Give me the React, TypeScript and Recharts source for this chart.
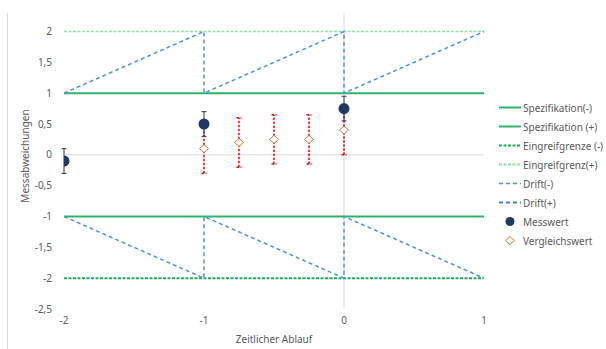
import React from 'react';
import { ScatterChart, Scatter, XAxis, YAxis, ReferenceLine, ErrorBar } from 'recharts';

// Werte
const limitX = [-2, 1];
const specMinus = [-1, -1];
const specPlus = [1, 1];
const limitMinus = [-2, -2];
const limitPlus = [2, 2];

const driftX = [-2, -1, -1, 0, 0, 1];
const driftMinus = [-1, -2, -1, -2, -1, -2];
const driftPlus = [1, 2, 1, 2, 1, 2];

const messX = [-2, -1, 0];
const messY = [-0.1, 0.5, 0.75];
const messErr = [0.2, 0.2, 0.2];

const vergX = [-1, -0.75, -0.5, -0.25, 0];
const vergY = [0.1, 0.2, 0.25, 0.25, 0.4];
const vergErr = [0.4, 0.4, 0.4, 0.4, 0.4];

const xTicks = [-2, -1, 0, 1];
const yTicks = [-2.5, -2, -1.5, -1, -0.5, 0, 0.5, 1, 1.5, 2];

const toPoints = (xs: number[], ys: number[], errs?: number[]) =>
  xs.map((x, i) => ({ x, y: ys[i], err: errs ? errs[i] : 0 }));

const FONT = '"Noto Sans", "Open Sans", sans-serif';
const TEXT = '#595959';

const legendItems = [
  { name: 'Spezifikation(-)', type: 'line', color: '#2DB46A', width: 2, dash: '' },
  { name: 'Spezifikation (+)', type: 'line', color: '#2DB46A', width: 2, dash: '' },
  { name: 'Eingreifgrenze (-)', type: 'line', color: '#1FAE55', width: 2, dash: '3 1.5' },
  { name: 'Eingreifgrenz(+)', type: 'line', color: '#8FDCAB', width: 2, dash: '3 1.5' },
  { name: 'Drift(-)', type: 'line', color: '#4C95D6', width: 1.5, dash: '4 3' },
  { name: 'Drift(+)', type: 'line', color: '#3A86CF', width: 2, dash: '4 3' },
  { name: 'Messwert', type: 'circle', color: '#203864', width: 0, dash: '' },
  { name: 'Vergleichswert', type: 'diamond', color: '#D2783A', width: 0, dash: '' },
];

const Nothing = () => <g />;

const Diamond = (props: any) => {
  const { cx, cy } = props;
  return (
    <polygon
      points={`${cx - 4.5},${cy} ${cx},${cy - 4} ${cx + 4.5},${cy} ${cx},${cy + 4}`}
      fill="#fff"
      stroke="#D2783A"
      strokeWidth={1}
    />
  );
};

const Dot = (props: any) => <circle cx={props.cx} cy={props.cy} r={5.5} fill="#203864" />;

const YTitle = () => (
  <text x={25} y={156} transform="rotate(-90 25 156)" textAnchor="middle" dominantBaseline="central"
    fill={TEXT} fontSize={10} fontFamily={FONT}>
    Messabweichungen
  </text>
);

function ChartLegend() {
  return (
    <div style={{ position: 'absolute', left: 497, top: 98, fontFamily: FONT, fontSize: 10, color: TEXT }}>
      {legendItems.map((it) => (
        <div key={it.name} style={{ height: 19, display: 'flex', alignItems: 'center' }}>
          <svg width={26} height={19}>
            {it.type === 'line' && (
              <line x1={2} y1={9.5} x2={24} y2={9.5} stroke={it.color} strokeWidth={it.width} strokeDasharray={it.dash} />
            )}
            {it.type === 'circle' && <circle cx={13} cy={9.5} r={4.5} fill={it.color} />}
            {it.type === 'diamond' && (
              <polygon points="8.5,9.5 13,5.5 17.5,9.5 13,13.5" fill="#fff" stroke={it.color} strokeWidth={1} />
            )}
          </svg>
          <span style={{ whiteSpace: 'nowrap' }}>{it.name}</span>
        </div>
      ))}
    </div>
  );
}

const fmt = (v: number) => String(v).replace('.', ',');

export default function App() {
  return (
    <div style={{ position: 'absolute', left: 0, top: 0, width: 606, height: 349, background: '#fff' }}>
      <div style={{ position: 'absolute', left: 7, top: 13, width: 1, height: 336, background: '#D9D9D9' }} />
      <ScatterChart width={606} height={349} margin={{ top: 13, right: 122, bottom: 10, left: 24 }}>
        <XAxis
          type="number"
          dataKey="x"
          domain={[-2, 1]}
          ticks={xTicks}
          axisLine={false}
          tickLine={false}
          tickSize={6}
          tickMargin={2}
          height={30}
          tick={{ fill: TEXT, fontSize: 10, fontFamily: FONT }}
          allowDataOverflow
          label={{ value: 'Zeitlicher Ablauf', position: 'insideBottom', offset: -4, fill: TEXT, fontSize: 10, fontFamily: FONT }}
        />
        <YAxis
          type="number"
          dataKey="y"
          domain={[-2.5, 2.3]}
          ticks={yTicks}
          axisLine={false}
          tickLine={false}
          tickSize={6}
          tickMargin={6}
          width={40}
          allowDataOverflow
          tickFormatter={fmt}
          tick={{ fill: TEXT, fontSize: 10, fontFamily: FONT }}
          label={{ content: YTitle }}
        />
        <ReferenceLine y={0} stroke="#D9D9D9" strokeWidth={1} />
        <ReferenceLine x={0} stroke="#D9D9D9" strokeWidth={1} />

        <Scatter name="Spezifikation(-)" data={toPoints(limitX, specMinus)} shape={Nothing} legendType="none"
          line={{ stroke: '#2DB46A', strokeWidth: 2 }} isAnimationActive={false} />
        <Scatter name="Spezifikation (+)" data={toPoints(limitX, specPlus)} shape={Nothing} legendType="none"
          line={{ stroke: '#2DB46A', strokeWidth: 2 }} isAnimationActive={false} />
        <Scatter name="Eingreifgrenze (-)" data={toPoints(limitX, limitMinus)} shape={Nothing} legendType="none"
          line={{ stroke: '#1FAE55', strokeWidth: 2, strokeDasharray: '3 1.5' }} isAnimationActive={false} />
        <Scatter name="Eingreifgrenz(+)" data={toPoints(limitX, limitPlus)} shape={Nothing} legendType="none"
          line={{ stroke: '#8FDCAB', strokeWidth: 1.5, strokeDasharray: '3 1.5' }} isAnimationActive={false} />
        <Scatter name="Drift(-)" data={toPoints(driftX, driftMinus)} shape={Nothing} legendType="none"
          line={{ stroke: '#4C95D6', strokeWidth: 1.5, strokeDasharray: '4 3' }} isAnimationActive={false} />
        <Scatter name="Drift(+)" data={toPoints(driftX, driftPlus)} shape={Nothing} legendType="none"
          line={{ stroke: '#4C95D6', strokeWidth: 1.5, strokeDasharray: '4 3' }} isAnimationActive={false} />

        <Scatter name="Vergleichswert" data={toPoints(vergX, vergY, vergErr)} shape={Diamond} isAnimationActive={false}>
          <ErrorBar dataKey="err" direction="y" width={2.5} stroke="#FF0000" strokeWidth={1.5} strokeDasharray="2.5 1.5" />
        </Scatter>
        <Scatter name="Messwert" data={toPoints(messX, messY, messErr)} shape={Dot} isAnimationActive={false}>
          <ErrorBar dataKey="err" direction="y" width={2.5} stroke="#203864" strokeWidth={1} />
        </Scatter>
      </ScatterChart>
      <ChartLegend />
    </div>
  );
}
